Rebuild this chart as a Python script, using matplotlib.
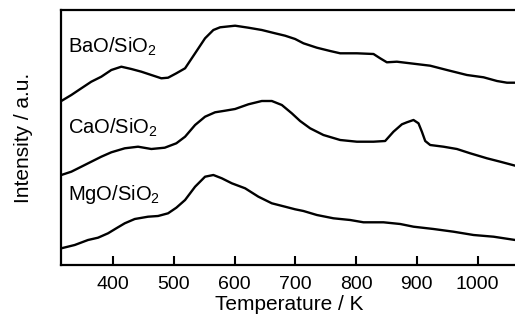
import numpy as np
import matplotlib
matplotlib.use("Agg")
import matplotlib.pyplot as plt

plt.rcParams['font.family'] = ['Liberation Sans', 'DejaVu Sans']
plt.rcParams['mathtext.fontset'] = 'custom'
plt.rcParams['mathtext.rm'] = 'Liberation Sans'
plt.rcParams['mathtext.it'] = 'Liberation Sans:italic'

# Temperatures (K) and intensities (a.u., stacked offsets)
bao_T = [314.3, 330.8, 347.3, 363.7, 380.2, 396.7, 413.2, 429.7, 446.2, 462.6, 479.1,
         490.2, 503.8, 518.2, 534.7, 551.1, 564.8, 575.9, 600.6, 622.5, 644.6, 666.5,
         683, 699.5, 713.2, 735.3, 757.2, 773.7, 801.2, 828.6, 839.6, 850.6, 867.1,
         889.1, 922, 949.5, 982.5, 1009.9, 1032, 1048.5, 1062.1]
bao_I = [164, 170, 176.7, 183.3, 188.3, 195, 198.3, 196, 193.3, 190, 186.7,
         187.3, 191.7, 196.7, 211.7, 226.7, 235, 237.7, 239.3, 237.3, 235, 231.7,
         229.3, 226, 221.7, 217.3, 214, 211.7, 211.7, 211, 206.7, 202.7, 203.3,
         201.7, 199.3, 195, 190, 187.7, 184, 182.3, 182.3]

cao_T = [314.3, 330.8, 347.3, 363.7, 380.2, 396.7, 418.8, 440.7, 462.6, 484.7, 503.8,
         518.2, 534.7, 551.1, 567.6, 584.1, 600.6, 622.5, 644.6, 661.1, 677.6, 694,
         707.7, 724.2, 746.1, 773.7, 801.2, 828.6, 847.8, 861.5, 875.4, 883.6, 894.5,
         902.7, 908.3, 913.8, 922, 943.9, 966, 987.9, 1015.5, 1037.4, 1062.1]
cao_I = [90, 93.3, 98.3, 103.3, 108.3, 112.7, 116.7, 118.3, 116, 117.3, 121.7,
         128.3, 140, 148.3, 152.7, 154.3, 156, 160.7, 164, 164, 160, 151.7,
         144, 136.7, 130, 125, 123.3, 123.3, 124, 133.3, 140.7, 142.7, 145,
         141.7, 133.3, 124, 120, 118.3, 116, 111.7, 106.7, 103.3, 99.3]

mgo_T = [314.3, 336.4, 358.3, 374.8, 391.3, 404.9, 418.8, 435.3, 457.2, 473.7, 490.2,
         503.8, 518.2, 534.7, 551.1, 564.8, 578.7, 595.2, 617.1, 639, 661.1, 683,
         699.5, 713.2, 735.3, 762.6, 790.2, 812.1, 845, 872.6, 894.5, 927.5, 960.4,
         993.4, 1026.4, 1062.1]
mgo_I = [16.7, 20, 25, 27.3, 31.7, 36.7, 41.7, 46, 48.3, 49, 51.7,
         57.3, 65, 78.3, 88.3, 90, 86.7, 81.7, 76.7, 68.3, 61.7, 58.3,
         55.7, 54, 50, 46.7, 45, 42.7, 42.7, 41, 38.3, 36, 33.3,
         30, 28.3, 25]

labels = ['BaO/SiO$_2$', 'CaO/SiO$_2$', 'MgO/SiO$_2$']
label_y = [218, 137, 70]
xticks = [400, 500, 600, 700, 800, 900, 1000]

fig = plt.figure(figsize=(5.15, 3.2), dpi=100)
W, H = 515, 320
ax = fig.add_axes([61 / W, (320 - 265) / H, (517 - 61) / W, (265 - 10) / H])

for T, I in [(bao_T, bao_I), (cao_T, cao_I), (mgo_T, mgo_I)]:
    ax.plot(T, I, color='black', lw=1.7, solid_joinstyle='round')

for lab, y in zip(labels, label_y):
    ax.text(325, y, lab, fontsize=14.5, va='center', ha='left')

ax.set_xlim(313.8, 1065)
ax.set_ylim(0, 255)
ax.set_xticks(xticks)
ax.set_yticks([])
ax.tick_params(axis='x', direction='in', length=6.5, width=1.5, labelsize=14, pad=8)
for s in ax.spines.values():
    s.set_linewidth(1.6)
ax.set_xlabel('Temperature / K', fontsize=15, labelpad=1)
ax.set_ylabel('Intensity / a.u.', fontsize=15, labelpad=20)

fig.savefig('out.png', dpi=100)
